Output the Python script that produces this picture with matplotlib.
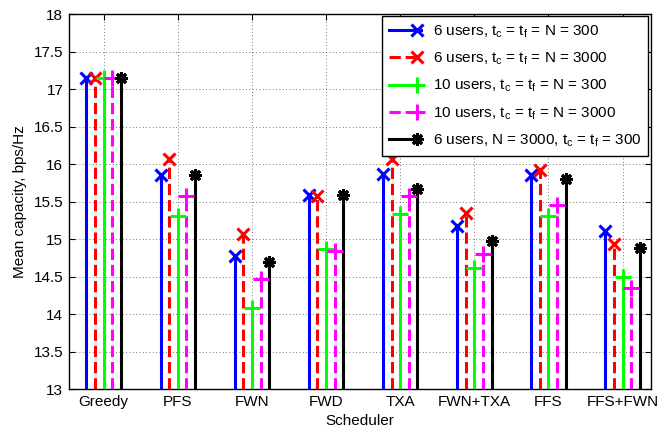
import matplotlib
matplotlib.use("Agg")
import matplotlib.pyplot as plt
import numpy as np
from matplotlib.lines import Line2D
from matplotlib.legend_handler import HandlerBase

plt.rcParams['font.family'] = ['Liberation Sans', 'DejaVu Sans']
plt.rcParams['mathtext.default'] = 'regular'

categories = ["Greedy", "PFS", "FWN", "FWD", "TXA", "FWN+TXA", "FFS", "FFS+FWN"]
s6_300 = [17.15, 15.85, 14.78, 15.59, 15.87, 15.18, 15.85, 15.11]
s6_3000 = [17.15, 16.07, 15.07, 15.57, 16.07, 15.35, 15.92, 14.94]
s10_300 = [17.15, 15.31, 14.08, 14.87, 15.34, 14.62, 15.31, 14.49]
s10_3000 = [17.15, 15.58, 14.47, 14.84, 15.57, 14.80, 15.46, 14.35]
s6_mix = [17.15, 15.86, 14.69, 15.59, 15.67, 14.97, 15.80, 14.88]
labels = [
    "6 users, t$_c$ = t$_f$ = N = 300",
    "6 users, t$_c$ = t$_f$ = N = 3000",
    "10 users, t$_c$ = t$_f$ = N = 300",
    "10 users, t$_c$ = t$_f$ = N = 3000",
    "6 users, N = 3000, t$_c$ = t$_f$ = 300",
]
series = [s6_300, s6_3000, s10_300, s10_3000, s6_mix]
styles = [
    dict(color=(0, 0, 1), ls='-', marker='x', ms=8),
    dict(color=(1, 0, 0), ls='--', marker='x', ms=8),
    dict(color=(0, 1, 0), ls='-', marker='+', ms=11),
    dict(color=(1, 0, 1), ls='--', marker='+', ms=11),
    dict(color='k', ls='-', marker=(8, 2, 0), ms=9),
]
offsets = [-0.232, -0.116, 0.0, 0.116, 0.232]
base = 13

fig = plt.figure(figsize=(6.62, 4.33), dpi=100)
ax = fig.add_axes([0.104, 0.1016, 0.879, 0.866])

x = np.arange(1, len(categories) + 1)
handles = []
for vals, st, off in zip(series, styles, offsets):
    xs = x + off
    ax.vlines(xs, base, vals, colors=[st['color']], linestyles=st['ls'], lw=2.2, zorder=3)
    ax.plot(xs, vals, ls='none', marker=st['marker'], color=st['color'], ms=st['ms'], mew=2.2, zorder=4)
    handles.append(Line2D([], [], color=st['color'], ls=st['ls'], lw=2.2,
                          marker=st['marker'], ms=st['ms'], mew=2.2))


class EndMarkerHandler(HandlerBase):
    def create_artists(self, legend, orig, xd, yd, w, h, fs, trans):
        y = h / 2 - yd
        l = Line2D([-xd, -xd + w], [y, y], color=orig.get_color(), ls=orig.get_linestyle(),
                   lw=orig.get_linewidth())
        m = Line2D([-xd + w - 3], [y], color=orig.get_color(), ls='none', marker=orig.get_marker(),
                   ms=orig.get_markersize(), mew=orig.get_markeredgewidth())
        l.set_transform(trans)
        m.set_transform(trans)
        return [l, m]


leg = ax.legend(handles, labels, loc='upper right', fontsize=11, handlelength=2.1,
                handletextpad=0.75, labelspacing=0.72, borderaxespad=0.15, borderpad=0.45,
                fancybox=False, framealpha=1, edgecolor='k',
                handler_map={Line2D: EndMarkerHandler()})
leg.get_frame().set_linewidth(1.0)
leg.set_zorder(10)

ax.set_xlim(0.53, 8.38)
ax.set_ylim(13, 18)
ax.set_xticks(x)
ax.set_xticklabels(categories)
ax.set_yticks(np.arange(13, 18.01, 0.5))
ax.set_yticklabels(["13", "13.5", "14", "14.5", "15", "15.5", "16", "16.5", "17", "17.5", "18"])
ax.tick_params(direction='in', top=True, right=True, labelsize=11, length=4, width=0.8, pad=4)
ax.grid(True, ls=(0, (1, 3)), color='k', lw=0.6, alpha=0.7)
ax.set_axisbelow(True)
for sp in ax.spines.values():
    sp.set_linewidth(1.0)
ax.set_xlabel("Scheduler", fontsize=11, labelpad=4)
ax.set_ylabel("Mean capacity, bps/Hz", fontsize=11, labelpad=5)

fig.savefig("out.png", dpi=100)
